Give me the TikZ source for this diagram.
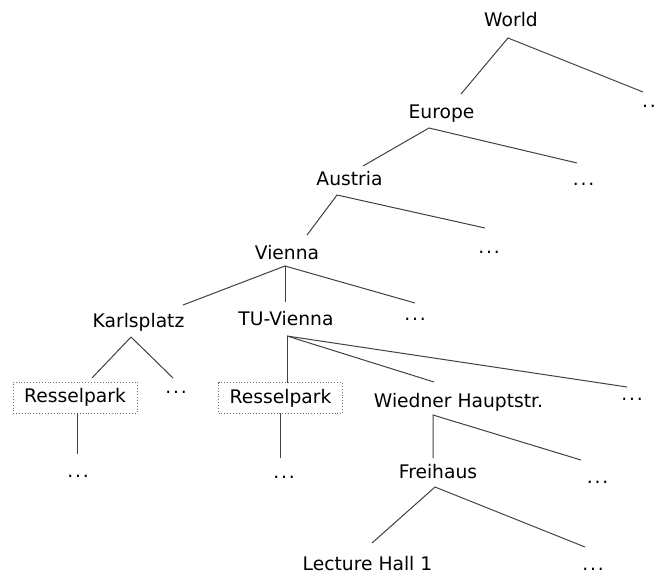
\documentclass[tikz,border=0pt]{standalone}
\usepackage{fontspec}
\setmainfont{DejaVu Sans}
\newcommand\dd{.\kern1.8pt.\kern1.8pt.}
\begin{document}
\begin{tikzpicture}[x=1pt,y=-1pt,
  lbl/.style={inner sep=0pt,anchor=base,font=\fontsize{18.7pt}{22pt}\selectfont},
  boxed/.style={draw=black!55,dotted,line width=0.9pt,inner sep=0pt,minimum width=124pt,minimum height=31pt,font=\fontsize{18.7pt}{22pt}\selectfont},
  edge/.style={draw=black!75,line width=1pt}]
\useasboundingbox (0,0) rectangle (656,576);
% labels
\node[lbl] (world) at (511,26) {World};
\node[lbl,anchor=base west] (worlddots) at (642,107) {.\kern1.8pt.};
\node[lbl] (europe) at (441.5,118) {Europe};
\node[lbl] (austria) at (349.5,185) {Austria};
\node[lbl] (eurdots) at (583.5,185) {\dd};
\node[lbl] (vienna) at (287,259) {Vienna};
\node[lbl] (ausdots) at (489,253) {\dd};
\node[lbl] (karl) at (138.5,327) {Karlsplatz};
\node[lbl] (tu) at (286,325) {TU-Vienna};
\node[lbl] (viedots) at (415,320) {\dd};
\node[boxed] (ress1) at (75,397.5) {Resselpark};
\node[lbl] (karldots) at (176,393) {\dd};
\node[boxed] (ress2) at (280.5,398) {Resselpark};
\node[lbl] (wied) at (458.5,407) {Wiedner Hauptstr.};
\node[lbl] (tudots) at (632,400) {\dd};
\node[lbl] (r1dots) at (78,477) {\dd};
\node[lbl] (r2dots) at (284,478) {\dd};
\node[lbl] (frei) at (438,478) {Freihaus};
\node[lbl] (wieddots) at (597.5,483) {\dd};
\node[lbl] (hall) at (367.5,570) {Lecture Hall 1};
\node[lbl] (freidots) at (593,570) {\dd};
% connector end points
\coordinate (world-o) at (508,38);
\coordinate (europe-i) at (461,94);
\coordinate (worlddots-i) at (643,92);
\coordinate (europe-o) at (429,128);
\coordinate (austria-i) at (363,166);
\coordinate (eurdots-i) at (577,163);
\coordinate (austria-o) at (337,195);
\coordinate (vienna-i) at (307,235);
\coordinate (ausdots-i) at (485,228);
\coordinate (vienna-o) at (285,266);
\coordinate (karl-i) at (183,305);
\coordinate (tu-i) at (285,302);
\coordinate (viedots-i) at (415,303);
\coordinate (karl-o) at (131,337);
\coordinate (ress1-i) at (92,378);
\coordinate (karldots-i) at (173,378);
\coordinate (ress1-o) at (77,413);
\coordinate (r1dots-i) at (77,454);
\coordinate (tu-o) at (287,336);
\coordinate (ress2-i) at (287,383);
\coordinate (wied-i) at (434,382);
\coordinate (tudots-i) at (627,387);
\coordinate (ress2-o) at (280,413);
\coordinate (r2dots-i) at (280,458);
\coordinate (wied-o) at (433,415);
\coordinate (frei-i) at (433,458);
\coordinate (wieddots-i) at (581,460);
\coordinate (frei-o) at (435,487);
\coordinate (hall-i) at (372,543);
\coordinate (freidots-i) at (585,547);
% connectors
\draw[edge] (europe-i) -- (world-o) -- (worlddots-i);
\draw[edge] (austria-i) -- (europe-o) -- (eurdots-i);
\draw[edge] (vienna-i) -- (austria-o) -- (ausdots-i);
\draw[edge] (karl-i) -- (vienna-o) -- (viedots-i);
\draw[edge] (vienna-o) -- (tu-i);
\draw[edge] (ress1-i) -- (karl-o) -- (karldots-i);
\draw[edge] (ress1-o) -- (r1dots-i);
\draw[edge] (tu-o) -- (ress2-i);
\draw[edge] (tu-o) -- (wied-i);
\draw[edge] (tu-o) -- (tudots-i);
\draw[edge] (ress2-o) -- (r2dots-i);
\draw[edge] (frei-i) -- (wied-o) -- (wieddots-i);
\draw[edge] (hall-i) -- (frei-o) -- (freidots-i);
\end{tikzpicture}
\end{document}
